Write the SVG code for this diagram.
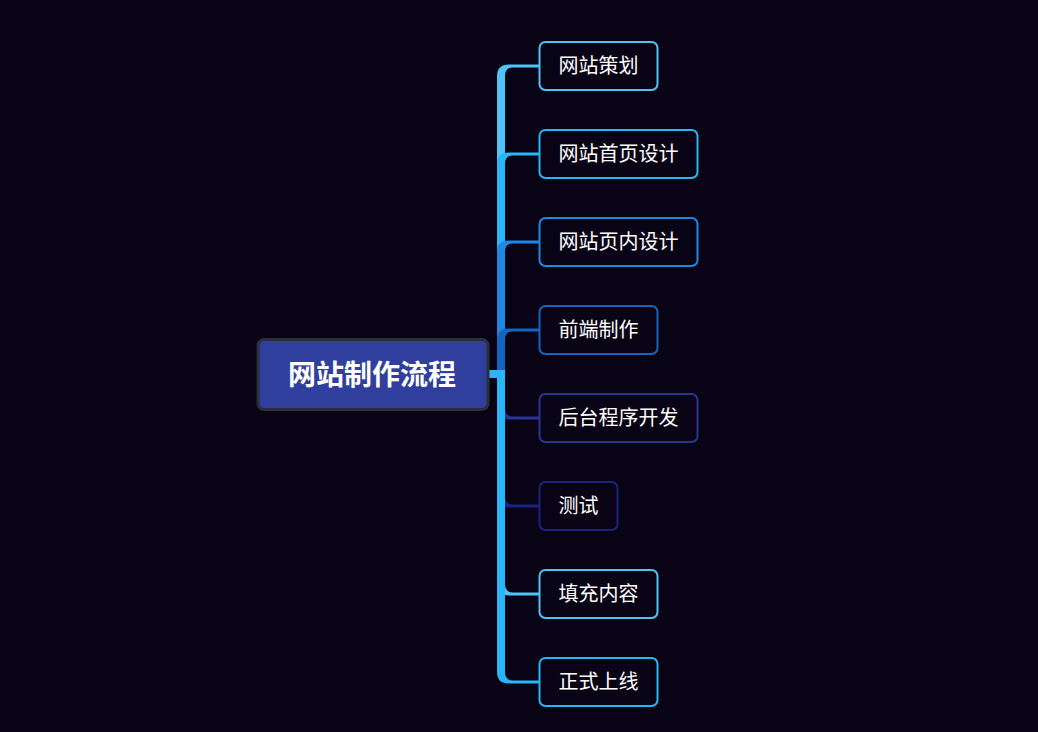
<svg xmlns="http://www.w3.org/2000/svg" width="1038" height="732" viewBox="0 0 1038 732">
<style>
.bg{fill:#090316}
.child rect{fill:#090316;stroke-width:2}
.child text{fill:#ffffff;font-family:"Noto Sans CJK SC","Noto Sans",sans-serif;font-size:20px;text-anchor:middle;dominant-baseline:central}
.root rect{fill:#303e9e;stroke:#2e2e3a;stroke-width:3}
.root text{fill:#ffffff;font-family:"Noto Sans CJK SC","Noto Sans",sans-serif;font-size:28px;font-weight:bold;text-anchor:middle;dominant-baseline:central}
</style>
<rect class="bg" x="0" y="0" width="1038" height="732"/>
<g id="connectors">
<path fill="#4fc3f7" d="M489 370 L497 370 L497 76 Q497 64.5 509 64.5 L539 64.5 L539 67.5 L513 67.5 Q505 67.5 505 76 L505 378 L489 378 Z"/>
<path fill="#29b6f6" d="M489 370 L497 370 L497 164 Q497 152.5 509 152.5 L539 152.5 L539 155.5 L513 155.5 Q505 155.5 505 164 L505 378 L489 378 Z"/>
<path fill="#1e88e5" d="M489 370 L497 370 L497 252 Q497 240.5 509 240.5 L539 240.5 L539 243.5 L513 243.5 Q505 243.5 505 252 L505 378 L489 378 Z"/>
<path fill="#1565c0" d="M489 370 L497 370 L497 340 Q497 328.5 509 328.5 L539 328.5 L539 331.5 L513 331.5 Q505 331.5 505 340 L505 378 L489 378 Z"/>
<path fill="#283593" d="M489 370 L505 370 L505 408 Q505 416.5 513 416.5 L539 416.5 L539 419.5 L509 419.5 Q497 419.5 497 408 L497 378 L489 378 Z"/>
<path fill="#1a237e" d="M489 370 L505 370 L505 496 Q505 504.5 513 504.5 L539 504.5 L539 507.5 L509 507.5 Q497 507.5 497 496 L497 378 L489 378 Z"/>
<path fill="#4fc3f7" d="M489 370 L505 370 L505 584 Q505 592.5 513 592.5 L539 592.5 L539 595.5 L509 595.5 Q497 595.5 497 584 L497 378 L489 378 Z"/>
<path fill="#29b6f6" d="M489 370 L505 370 L505 672 Q505 680.5 513 680.5 L539 680.5 L539 683.5 L509 683.5 Q497 683.5 497 672 L497 378 L489 378 Z"/>
</g>
<g id="root" class="root">
<rect x="258" y="339.5" width="230" height="70" rx="6"/>
<text x="372" y="373">网站制作流程</text>
</g>
<g id="n1" class="child"><rect x="539.5" y="42" width="118" height="48" rx="6" stroke="#4fc3f7"/><text x="598.5" y="64.5">网站策划</text></g>
<g id="n2" class="child"><rect x="539.5" y="130" width="158" height="48" rx="6" stroke="#29b6f6"/><text x="618.5" y="152.5">网站首页设计</text></g>
<g id="n3" class="child"><rect x="539.5" y="218" width="158" height="48" rx="6" stroke="#1e88e5"/><text x="618.5" y="240.5">网站页内设计</text></g>
<g id="n4" class="child"><rect x="539.5" y="306" width="118" height="48" rx="6" stroke="#1565c0"/><text x="598.5" y="328.5">前端制作</text></g>
<g id="n5" class="child"><rect x="539.5" y="394" width="158" height="48" rx="6" stroke="#283593"/><text x="618.5" y="416.5">后台程序开发</text></g>
<g id="n6" class="child"><rect x="539.5" y="482" width="78" height="48" rx="6" stroke="#1a237e"/><text x="578.5" y="504.5">测试</text></g>
<g id="n7" class="child"><rect x="539.5" y="570" width="118" height="48" rx="6" stroke="#4fc3f7"/><text x="598.5" y="592.5">填充内容</text></g>
<g id="n8" class="child"><rect x="539.5" y="658" width="118" height="48" rx="6" stroke="#29b6f6"/><text x="598.5" y="680.5">正式上线</text></g>
</svg>
